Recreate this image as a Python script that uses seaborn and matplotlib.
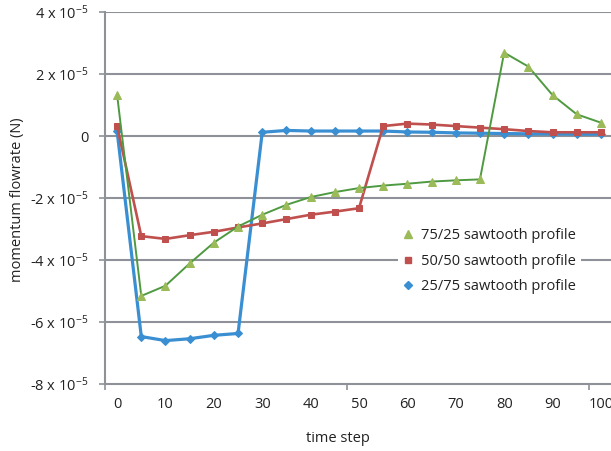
import matplotlib
matplotlib.use("Agg")
import matplotlib.pyplot as plt
import seaborn as sns
import pandas as pd
from matplotlib.lines import Line2D
from matplotlib.ticker import FixedLocator, FuncFormatter

time_step = [0, 5, 10, 15, 20, 25, 30, 35, 40, 45, 50, 55, 60, 65, 70, 75, 80, 85, 90, 95, 100]

s_75_25 = [1.33, -5.16, -4.83, -4.11, -3.44, -2.92, -2.54, -2.22, -1.97, -1.81, -1.68,
           -1.60, -1.54, -1.47, -1.43, -1.40, 2.69, 2.24, 1.32, 0.70, 0.43]
s_50_50 = [0.32, -3.23, -3.32, -3.20, -3.09, -2.95, -2.82, -2.68, -2.54, -2.44, -2.33,
           0.32, 0.40, 0.37, 0.32, 0.27, 0.22, 0.16, 0.12, 0.12, 0.12]
s_25_75 = [0.16, -6.47, -6.60, -6.54, -6.43, -6.37, 0.12, 0.18, 0.16, 0.16, 0.16,
           0.16, 0.13, 0.12, 0.10, 0.09, 0.08, 0.07, 0.07, 0.06, 0.06]

labels = ["75/25 sawtooth profile", "50/50 sawtooth profile", "25/75 sawtooth profile"]
y_ticks = [-8, -6, -4, -2, 0, 2, 4]

sns.set_theme(style="white")
plt.rcParams['font.family'] = ['Open Sans', 'DejaVu Sans']
plt.rcParams['mathtext.fontset'] = 'custom'
plt.rcParams['mathtext.rm'] = 'Open Sans'
plt.rcParams['mathtext.it'] = 'Open Sans'
plt.rcParams['mathtext.default'] = 'regular'

W, H = 611, 451
fig = plt.figure(figsize=(W / 100, H / 100), dpi=100)
ax = fig.add_axes([105 / W, 67 / H, 508 / W, 372 / H])

scale = 1e-5
df = pd.DataFrame({
    "t": time_step * 3,
    "v": [v * scale for v in s_75_25 + s_50_50 + s_25_75],
    "series": [labels[0]] * 21 + [labels[1]] * 21 + [labels[2]] * 21,
})

grid_c = "#8e9298"
for yv in y_ticks[1:]:
    ax.axhline(yv * scale, color=grid_c, lw=1.5, zorder=0.5)

blue = "#3a8fd2"
red = "#c0504d"
green_line = "#4f9a41"
green_mk = "#9bbb59"

sns.lineplot(data=df[df.series == labels[2]], x="t", y="v", ax=ax, color=blue, lw=2.3,
             marker="D", markersize=3.6, markeredgecolor=blue, markerfacecolor=blue,
             legend=False, zorder=3)
sns.lineplot(data=df[df.series == labels[1]], x="t", y="v", ax=ax, color=red, lw=1.9,
             marker="s", markersize=4.6, markeredgecolor=red, markerfacecolor=red,
             legend=False, zorder=4)
sns.lineplot(data=df[df.series == labels[0]], x="t", y="v", ax=ax, color=green_line, lw=1.4,
             marker="^", markersize=5.6, markeredgecolor=green_mk, markerfacecolor=green_mk,
             legend=False, zorder=5)

ax.set_xlim(-2.5, 102.5)
ax.set_ylim(-8 * scale, 4 * scale)

ax.xaxis.set_major_locator(FixedLocator(list(range(0, 101, 10))))
ax.xaxis.set_minor_locator(FixedLocator([-2.5, 47.5, 97.5]))
ax.yaxis.set_major_locator(FixedLocator([v * scale for v in y_ticks]))


def yfmt(v, pos):
    n = round(v / scale)
    if n == 0:
        return "0"
    return r"%d x 10$^{-5}$" % n


ax.yaxis.set_major_formatter(FuncFormatter(yfmt))

ax.tick_params(axis="x", which="major", length=0, pad=9, labelsize=10.5, colors="#222222")
ax.tick_params(axis="x", which="minor", length=4, width=1.2, color=grid_c, direction="out", bottom=True)
ax.tick_params(axis="y", which="major", length=4, width=1.2, color=grid_c, direction="out",
               left=True, pad=8, labelsize=10.5, labelcolor="#222222")

for s in ["top", "right"]:
    ax.spines[s].set_visible(False)
for s in ["left", "bottom"]:
    ax.spines[s].set_color(grid_c)
    ax.spines[s].set_linewidth(1.5)

ax.set_xlabel("time step", fontsize=10.5, color="#222222")
ax.set_ylabel("momentum flowrate (N)", fontsize=10.5, color="#222222")
ax.xaxis.set_label_coords((338 - 105) / 508, -(431 - 384) / 372)
ax.yaxis.set_label_coords(-(105 - 25) / 508, (384 - 200) / 372)

handles = [
    Line2D([], [], ls="none", marker="^", color=green_mk, markersize=6),
    Line2D([], [], ls="none", marker="s", color=red, markersize=4.8),
    Line2D([], [], ls="none", marker="D", color=blue, markersize=4),
]
leg = ax.legend(handles, labels, loc="upper left", bbox_to_anchor=((398 - 105) / 508, (384 - 224) / 372),
                frameon=True, fontsize=10.5, handlelength=0.8, handletextpad=0.5,
                labelspacing=0.72, borderpad=0.3, borderaxespad=0)
leg.get_frame().set_facecolor("white")
leg.get_frame().set_edgecolor("none")
leg.get_frame().set_alpha(1)
leg.set_zorder(10)
for t in leg.get_texts():
    t.set_color("#222222")

fig.savefig("out.png", dpi=100)
